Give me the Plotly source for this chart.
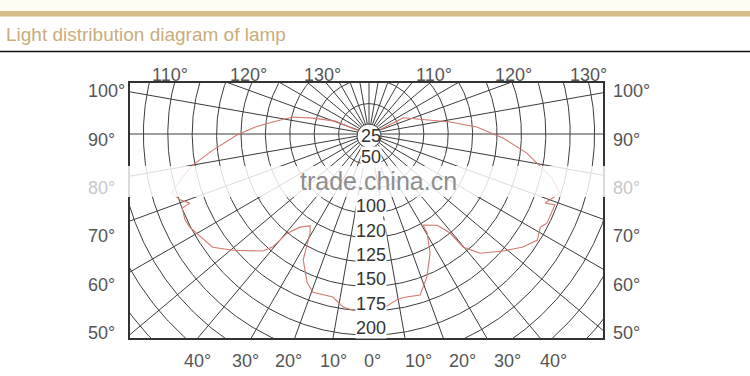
import numpy as np
import plotly.graph_objects as go

# ---------------- data ----------------
# light distribution curve: angle in degrees from nadir (negative = left half), radius in chart units
curve_angle_left = [-108, -110.9, -105.9, -102.6, -97.1, -93.5, -89.6, -84.1, -80.0, -76.8, -73.3,
                    -70.8, -68.9, -68.4, -65.0, -62.5, -60.1, -54.1, -49.5, -46.0, -42.2, -40.4,
                    -39.6, -36.6, -32.7, -30.8, -27.6, -22.6, -19.5, -12.5, -8.5, -5.2, 0]
curve_r_left = [13, 36, 58, 78, 97, 114, 132, 157, 179, 192, 206,
                200, 192, 201, 203, 202, 199, 193, 179, 168, 158, 148,
                129, 116, 109, 115, 142, 161, 168, 167, 175, 177, 177]
curve_angle_right = [4.6, 9.6, 11.8, 17.6, 22.1, 27.1, 30.4, 30.7, 36.8, 39.3, 39.8, 43.0, 48.9,
                     53.7, 57.8, 61.5, 63.4, 66.7, 69.1, 68.6, 72.8, 76.5, 80.2, 83.1, 88.3,
                     93.7, 98.4, 104.5, 115.2, 112]
curve_r_right = [175, 168, 167, 169, 154, 134, 115, 106, 114, 128, 147, 163, 178,
                 191, 199, 195, 199, 199, 199, 189, 200, 188, 171, 159, 134,
                 108, 82, 56, 38, 12]

# ring labels (the "75" ring label is hidden under the watermark in the source, so it is blank)
ring_labels = ["25", "50", "", "100", "120", "125", "150", "175", "200"]
side_labels = ["100°", "90°", "80°", "70°", "60°", "50°"]
top_labels = ["110°", "120°", "130°", "110°", "120°", "130°"]
bottom_labels = ["40°", "30°", "20°", "10°", "0°", "10°", "20°", "30°", "40°"]
title_text = "Light distribution diagram of lamp"
watermark = "trade.china.cn"

# ---------------- layout geometry (pixels) ----------------
W, H = 750, 376
PL, PR, PT, PB = 130, 603, 83, 338      # plot rectangle
CX, CY = 369, 134                        # pole of the diagram
ring_step, ring_offset, n_rings = 24.4, 6, 13
spoke_step = 10

side_y = [91, 140, 188, 236, 285, 333]
top_x = [170, 248, 322, 434, 513, 588]
bottom_x = [197, 245, 288, 333, 372, 418, 462, 507, 553]


def px(p):
    return (p - PL) / (PR - PL)


def py(p):
    return (PB - p) / (PB - PT)


def polar_xy(ang, r):
    a = np.radians(np.asarray(ang, dtype=float))
    r = np.asarray(r, dtype=float)
    return r * np.sin(a), -r * np.cos(a)


fig = go.Figure()

# rings
t = np.linspace(0, 360, 721)
rx, ry = [], []
for j in range(1, n_rings + 1):
    x, y = polar_xy(t, np.full_like(t, ring_offset + ring_step * j))
    rx += list(x) + [None]
    ry += list(y) + [None]
fig.add_trace(go.Scatter(x=rx, y=ry, mode="lines", line=dict(color="#3c3c3c", width=1),
                         hoverinfo="skip", showlegend=False))

# spokes (the 0° spoke carries the ring labels and is not drawn)
sx, sy = [], []
for a in np.arange(spoke_step, 360, spoke_step):
    x, y = polar_xy([a, a], [0, 500])
    sx += list(x) + [None]
    sy += list(y) + [None]
fig.add_trace(go.Scatter(x=sx, y=sy, mode="lines", line=dict(color="#3c3c3c", width=1),
                         hoverinfo="skip", showlegend=False))

# light distribution curve
cx, cy = polar_xy(curve_angle_left + curve_angle_right, curve_r_left + curve_r_right)
fig.add_trace(go.Scatter(x=cx, y=cy, mode="lines", line=dict(color="#d4776f", width=1.1),
                         hoverinfo="skip", showlegend=False))

# small white hub around the "25" label
hx, hy = polar_xy(t, np.full_like(t, 12.0))
fig.add_trace(go.Scatter(x=hx, y=hy - 2, mode="lines", fill="toself", fillcolor="white",
                         line=dict(color="#3c3c3c", width=1), hoverinfo="skip", showlegend=False))

annotations = []
lab_font = dict(family="Liberation Sans, Arial, sans-serif", size=18, color="#333333")
for k, lab in enumerate(ring_labels):
    if not lab:
        continue
    yy = -2 if k == 0 else -(ring_offset + ring_step * k - 7)
    annotations.append(dict(x=2, y=yy, xref="x", yref="y", text=lab, showarrow=False,
                            font=lab_font,
                            bgcolor=None if k == 0 else "white", borderpad=0,
                            xanchor="center", yanchor="middle"))

ang_font = dict(family="Liberation Sans, Arial, sans-serif", size=18, color="#555555")
for lab, yv in zip(side_labels, side_y):
    col = "#c8c8c8" if lab == "80°" else "#555555"
    annotations.append(dict(x=px(86), y=py(yv), xref="paper", yref="paper", text=lab,
                            showarrow=False, font=dict(ang_font, color=col),
                            xanchor="left", yanchor="middle"))
    annotations.append(dict(x=px(611), y=py(yv), xref="paper", yref="paper", text=lab,
                            showarrow=False, font=dict(ang_font, color=col),
                            xanchor="left", yanchor="middle"))
for lab, xv in zip(top_labels, top_x):
    annotations.append(dict(x=px(xv), y=py(75), xref="paper", yref="paper", text=lab,
                            showarrow=False, font=ang_font, xanchor="center", yanchor="middle"))
for lab, xv in zip(bottom_labels, bottom_x):
    annotations.append(dict(x=px(xv), y=py(361), xref="paper", yref="paper", text=lab,
                            showarrow=False, font=ang_font, xanchor="center", yanchor="middle"))

# title
annotations.append(dict(x=px(4), y=py(34), xref="paper", yref="paper", text=title_text,
                        showarrow=False, xanchor="left", yanchor="middle",
                        font=dict(family="Liberation Sans, Arial, sans-serif", size=19,
                                  color="#c9ad7c")))
# watermark text
annotations.append(dict(x=px(378), y=py(181), xref="paper", yref="paper", text=watermark,
                        showarrow=False, xanchor="center", yanchor="middle",
                        font=dict(family="Liberation Sans, Arial, sans-serif", size=25,
                                  color="#8e8e8e")))

shapes = [
    dict(type="rect", xref="paper", yref="paper", x0=px(0), x1=px(W), y0=py(0), y1=py(11),
         fillcolor="#fffdf2", line=dict(width=0), layer="below"),
    dict(type="rect", xref="paper", yref="paper", x0=px(0), x1=px(W), y0=py(11), y1=py(16.5),
         fillcolor="#d5bc88", line=dict(width=0), layer="below"),
    dict(type="line", xref="paper", yref="paper", x0=px(0), x1=px(W), y0=py(51.5), y1=py(51.5),
         line=dict(color="#111111", width=1.6)),
    dict(type="rect", xref="paper", yref="paper", x0=px(84), x1=px(640), y0=py(166), y1=py(197),
         fillcolor="white", opacity=0.82, line=dict(width=0), layer="above"),
]

fig.update_layout(
    width=W, height=H,
    margin=dict(l=PL, r=W - PR, t=PT, b=H - PB, pad=0),
    paper_bgcolor="white", plot_bgcolor="white",
    showlegend=False,
    xaxis=dict(range=[PL - CX, PR - CX], showgrid=False, zeroline=False, showticklabels=False,
               ticks="", showline=True, mirror=True, linecolor="#333333", linewidth=1.8,
               fixedrange=True),
    yaxis=dict(range=[CY - PB, CY - PT], showgrid=False, zeroline=False, showticklabels=False,
               ticks="", showline=True, mirror=True, linecolor="#333333", linewidth=1.8,
               fixedrange=True),
    annotations=annotations,
    shapes=shapes,
)

fig.write_html("out.html")
